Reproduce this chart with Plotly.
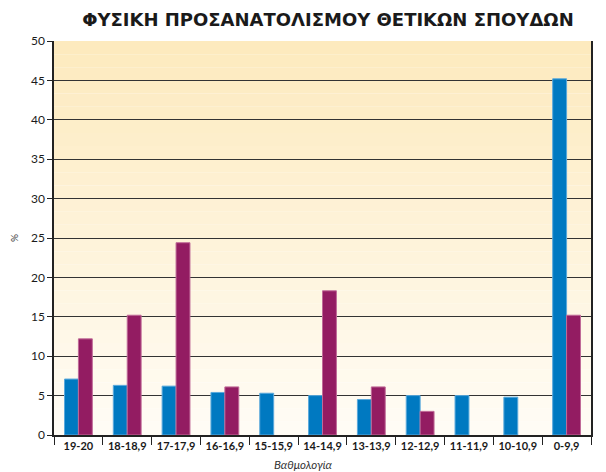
import plotly.graph_objects as go

categories = ['19-20', '18-18,9', '17-17,9', '16-16,9', '15-15,9', '14-14,9',
              '13-13,9', '12-12,9', '11-11,9', '10-10,9', '0-9,9']
series_blue = [7.1, 6.3, 6.2, 5.4, 5.3, 5.0, 4.5, 5.0, 5.0, 4.8, 45.2]
series_purple = [12.2, 15.2, 24.4, 6.1, None, 18.3, 6.1, 3.0, None, None, 15.2]
y_ticks = [0, 5, 10, 15, 20, 25, 30, 35, 40, 45, 50]

fig = go.Figure()
fig.add_trace(go.Bar(x=categories, y=series_blue, name='A',
                     marker=dict(color='#0079c1', line=dict(color='#5aa9dc', width=1))))
fig.add_trace(go.Bar(x=categories, y=series_purple, name='B',
                     marker=dict(color='#931c62', line=dict(color='#c06a98', width=1))))

# vertical gradient background (light orange at top to near white)
shapes = []
n = 30
top = (253, 234, 190)
bot = (255, 252, 245)
for i in range(n):
    t = i / (n - 1)
    c = tuple(round(top[k] + (bot[k] - top[k]) * t) for k in range(3))
    shapes.append(dict(type='rect', xref='paper', yref='paper', layer='below',
                       x0=0, x1=1, y1=1 - i / n, y0=1 - (i + 1) / n,
                       fillcolor='rgb(%d,%d,%d)' % c, line=dict(width=0)))

fig.update_layout(
    title=dict(text='<b>ΦΥΣΙΚΗ ΠΡΟΣΑΝΑΤΟΛΙΣΜΟΥ ΘΕΤΙΚΩΝ ΣΠΟΥΔΩΝ</b>',
               x=0.535, xanchor='center', y=0.975, yanchor='middle',
               font=dict(family='DejaVu Sans, sans-serif', size=18, color='#1a1a1a')),
    width=598, height=464,
    margin=dict(l=46, r=15, t=33, b=37, autoexpand=False),
    paper_bgcolor='white',
    plot_bgcolor='rgba(0,0,0,0)',
    barmode='group', bargap=0.43, bargroupgap=0,
    showlegend=False,
    shapes=shapes,
    font=dict(family='Lato, Open Sans, sans-serif', color='#1a1a1a'),
    xaxis=dict(
        tickson='boundaries', ticks='outside', ticklen=8, tickcolor='#222',
        showline=True, linecolor='#222', linewidth=2, showgrid=False,
        tickangle=0, automargin=False,
        tickfont=dict(size=11, family='Lato, Open Sans, sans-serif', weight='bold'),
    ),
    yaxis=dict(
        range=[0, 50], tickvals=y_ticks, ticks='outside', ticklen=5, tickcolor='#222',
        showline=True, linecolor='#222', linewidth=1.5, mirror=True,
        showgrid=True, gridcolor='#333', gridwidth=1, zeroline=False,
        automargin=False,
        tickfont=dict(size=12),
        title=dict(text='%', standoff=40, font=dict(size=10, color='#333')),
    ),
    annotations=[dict(text='<i>Βαθμολογία</i>', xref='paper', yref='paper',
                      x=0.465, y=0, yshift=-21, yanchor='top', showarrow=False,
                      font=dict(size=11.5, color='#333'))],
)

fig.write_html("out.html")
